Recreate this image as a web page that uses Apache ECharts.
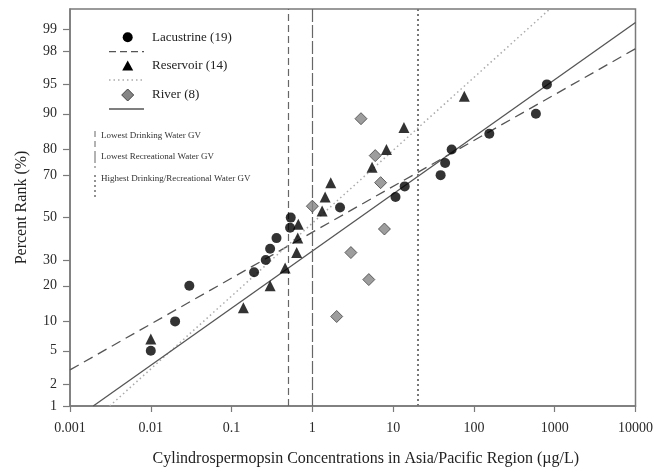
<!DOCTYPE html>
<html>
<head>
<meta charset="utf-8">
<script src="https://cdn.jsdelivr.net/npm/echarts@6/dist/echarts.min.js"></script>
<style>
  html, body { margin: 0; padding: 0; background: #fff; }
  #chart { width: 656px; height: 473px; }
</style>
</head>
<body>
<div id="chart"></div>
<script>
// values: concentration (ug/L) and percent rank (%)
var lacConc = [0.01, 0.02, 0.03, 0.19, 0.265, 0.30, 0.36, 0.53, 0.54, 2.2, 10.7, 13.9, 38.7, 44, 53, 155, 585, 800];
var lacRank = [5, 10, 20, 25, 30, 35, 40, 45, 50, 55, 60, 65, 70, 75, 80, 85, 90, 95];
var resConc = [0.01, 0.14, 0.30, 0.46, 0.64, 0.66, 0.67, 1.32, 1.44, 1.69, 5.48, 8.26, 13.6, 76];
var resRank = [6.7, 13.3, 20, 26.7, 33.3, 40, 46.7, 53.3, 60, 66.7, 73.3, 80, 86.7, 93.3];
var rivConc = [2.0, 5.0, 3.0, 7.8, 1.0, 7.0, 6.0, 4.0];
var rivRank = [11.1, 22.2, 33.3, 44.4, 55.6, 66.7, 77.8, 88.9];

// fitted lines, end points [conc, rank]
var lacFit = [[0.001, 3.0], [10000, 98.15]];
var resFit = [[0.0031, 1], [870, 99.5]];
var rivFit = [[0.00194, 1], [10000, 99.2]];

// guideline values (ug/L)
var guideConc = [0.5, 1, 20];

var yTicks = [1, 2, 5, 10, 20, 30, 50, 70, 80, 90, 95, 98, 99];
var yRange = [1, 99.5];
var xRange = [0.001, 10000];

var FONT = "'Liberation Serif', 'DejaVu Serif', serif";

// inverse normal cdf (Acklam) for the probability axis
function probit(p) {
  var a = [-3.969683028665376e+01, 2.209460984245205e+02, -2.759285104469687e+02, 1.383577518672690e+02, -3.066479806614716e+01, 2.506628277459239e+00];
  var b = [-5.447609879822406e+01, 1.615858368580409e+02, -1.556989798598866e+02, 6.680131188771972e+01, -1.328068155022803e+01];
  var c = [-7.784894002430293e-03, -3.223964580411365e-01, -2.400758277161838e+00, -2.549732810094860e+00, 4.374664141464968e+00, 2.938163982698783e+00];
  var d = [7.784695709041462e-03, 3.224671290700398e-01, 2.445134137142996e+00, 3.754408661907416e+00];
  var pl = 0.02425, q, r;
  if (p < pl) {
    q = Math.sqrt(-2 * Math.log(p));
    return (((((c[0] * q + c[1]) * q + c[2]) * q + c[3]) * q + c[4]) * q + c[5]) / ((((d[0] * q + d[1]) * q + d[2]) * q + d[3]) * q + 1);
  }
  if (p > 1 - pl) {
    q = Math.sqrt(-2 * Math.log(1 - p));
    return -(((((c[0] * q + c[1]) * q + c[2]) * q + c[3]) * q + c[4]) * q + c[5]) / ((((d[0] * q + d[1]) * q + d[2]) * q + d[3]) * q + 1);
  }
  q = p - 0.5;
  r = q * q;
  return (((((a[0] * r + a[1]) * r + a[2]) * r + a[3]) * r + a[4]) * r + a[5]) * q / (((((b[0] * r + b[1]) * r + b[2]) * r + b[3]) * r + b[4]) * r + 1);
}
function z(pct) { return probit(pct / 100); }
function pairs(xs, ranks) { return xs.map(function (x, i) { return [x, z(ranks[i])]; }); }
function fitLine(pts) { return pts.map(function (p) { return [p[0], z(p[1])]; }); }

var yTickZ = yTicks.map(z);

var chart = echarts.init(document.getElementById('chart'));
var option = {
  animation: false,
  backgroundColor: '#fff',
  grid: { left: 70, right: 20, top: 9, bottom: 67, show: true, borderColor: '#7a7a7a', borderWidth: 1.5 },
  xAxis: {
    type: 'log', logBase: 10, min: xRange[0], max: xRange[1],
    name: 'Cylindrospermopsin Concentrations in Asia/Pacific Region (\u00b5g/L)',
    nameLocation: 'middle', nameGap: 45,
    nameTextStyle: { fontFamily: FONT, fontSize: 16, color: '#222', padding: [0, 0, 0, 26] },
    axisLine: { show: true, onZero: false, lineStyle: { color: '#7a7a7a', width: 1.5 } },
    axisTick: { show: true, length: 6, lineStyle: { color: '#7a7a7a', width: 1.2 } },
    axisLabel: {
      margin: 15, fontFamily: FONT, fontSize: 14, color: '#2a2a2a',
      formatter: function (v) { return String(+Number(v).toPrecision(3)); }
    },
    splitLine: { show: false }
  },
  yAxis: {
    type: 'value', min: z(yRange[0]), max: z(yRange[1]),
    name: 'Percent Rank (%)', nameLocation: 'middle', nameGap: 40,
    nameTextStyle: { fontFamily: FONT, fontSize: 16, color: '#222' },
    axisLine: { show: true, onZero: false, lineStyle: { color: '#7a7a7a', width: 1.5 } },
    axisTick: { show: true, length: 7, customValues: yTickZ, lineStyle: { color: '#7a7a7a', width: 1.2 } },
    axisLabel: {
      customValues: yTickZ, margin: 13, fontFamily: FONT, fontSize: 14, color: '#2a2a2a',
      formatter: function (v) {
        for (var i = 0; i < yTickZ.length; i++) {
          if (Math.abs(yTickZ[i] - v) < 1e-6) return String(yTicks[i]);
        }
        return '';
      }
    },
    splitLine: { show: false }
  },
  series: [
    {
      name: 'Guidelines', type: 'line', data: [], silent: true,
      markLine: {
        silent: true, symbol: 'none', label: { show: false },
        data: [
          { xAxis: guideConc[0], lineStyle: { color: '#666', width: 1.2, type: [7, 4] } },
          { xAxis: guideConc[1], lineStyle: { color: '#666', width: 1.2, type: [13, 3] } },
          { xAxis: guideConc[2], lineStyle: { color: '#777', width: 2, type: [2, 3] } }
        ]
      }
    },
    {
      name: 'Lacustrine fit', type: 'line', data: fitLine(lacFit), symbol: 'none', silent: true,
      lineStyle: { color: '#555', width: 1.3, type: [10, 6] }
    },
    {
      name: 'Reservoir fit', type: 'line', data: fitLine(resFit), symbol: 'none', silent: true,
      lineStyle: { color: '#aaa', width: 1.5, type: [1.5, 3] }
    },
    {
      name: 'River fit', type: 'line', data: fitLine(rivFit), symbol: 'none', silent: true,
      lineStyle: { color: '#555', width: 1.3 }
    },
    {
      name: 'Lacustrine (19)', type: 'scatter', data: pairs(lacConc, lacRank),
      symbol: 'circle', symbolSize: 10, itemStyle: { color: '#000' }, z: 5
    },
    {
      name: 'Reservoir (14)', type: 'scatter', data: pairs(resConc, resRank),
      symbol: 'triangle', symbolSize: 11, itemStyle: { color: '#000' }, z: 5
    },
    {
      name: 'River (8)', type: 'scatter', data: pairs(rivConc, rivRank),
      symbol: 'diamond', symbolSize: [12, 12], itemStyle: { color: '#858585', borderColor: '#444', borderWidth: 1 }, z: 5
    }
  ],
  graphic: [
    { type: 'circle', shape: { cx: 127.7, cy: 37.3, r: 5 }, style: { fill: '#000' } },
    { type: 'text', x: 152, y: 37.3, style: { text: 'Lacustrine (19)', font: '13px ' + FONT, fill: '#222', verticalAlign: 'middle' } },
    { type: 'line', shape: { x1: 109, y1: 51.7, x2: 144, y2: 51.7 }, style: { stroke: '#555', lineWidth: 1.3, lineDash: [7, 4] } },
    { type: 'polygon', shape: { points: [[127.7, 60.5], [133.2, 70.5], [122.2, 70.5]] }, style: { fill: '#000' } },
    { type: 'text', x: 152, y: 66, style: { text: 'Reservoir (14)', font: '13px ' + FONT, fill: '#222', verticalAlign: 'middle' } },
    { type: 'line', shape: { x1: 109, y1: 80, x2: 144, y2: 80 }, style: { stroke: '#aaa', lineWidth: 1.5, lineDash: [1.5, 3] } },
    { type: 'polygon', shape: { points: [[127.7, 89], [133.7, 95], [127.7, 101], [121.7, 95]] }, style: { fill: '#858585', stroke: '#444', lineWidth: 1 } },
    { type: 'text', x: 152, y: 95, style: { text: 'River (8)', font: '13px ' + FONT, fill: '#222', verticalAlign: 'middle' } },
    { type: 'line', shape: { x1: 109, y1: 109, x2: 144, y2: 109 }, style: { stroke: '#555', lineWidth: 1.3 } },

    { type: 'line', shape: { x1: 95, y1: 131, x2: 95, y2: 147 }, style: { stroke: '#666', lineWidth: 1, lineDash: [6, 4] } },
    { type: 'text', x: 101, y: 136, style: { text: 'Lowest Drinking Water GV', font: '9px ' + FONT, fill: '#333', verticalAlign: 'middle' } },
    { type: 'line', shape: { x1: 95, y1: 151, x2: 95, y2: 168 }, style: { stroke: '#666', lineWidth: 1, lineDash: [12, 3] } },
    { type: 'text', x: 101, y: 157, style: { text: 'Lowest Recreational Water GV', font: '9px ' + FONT, fill: '#333', verticalAlign: 'middle' } },
    { type: 'line', shape: { x1: 95, y1: 175, x2: 95, y2: 200 }, style: { stroke: '#777', lineWidth: 1.6, lineDash: [2, 3] } },
    { type: 'text', x: 101, y: 179, style: { text: 'Highest Drinking/Recreational Water GV', font: '9px ' + FONT, fill: '#333', verticalAlign: 'middle' } }
  ]
};
chart.setOption(option);
</script>
</body>
</html>
